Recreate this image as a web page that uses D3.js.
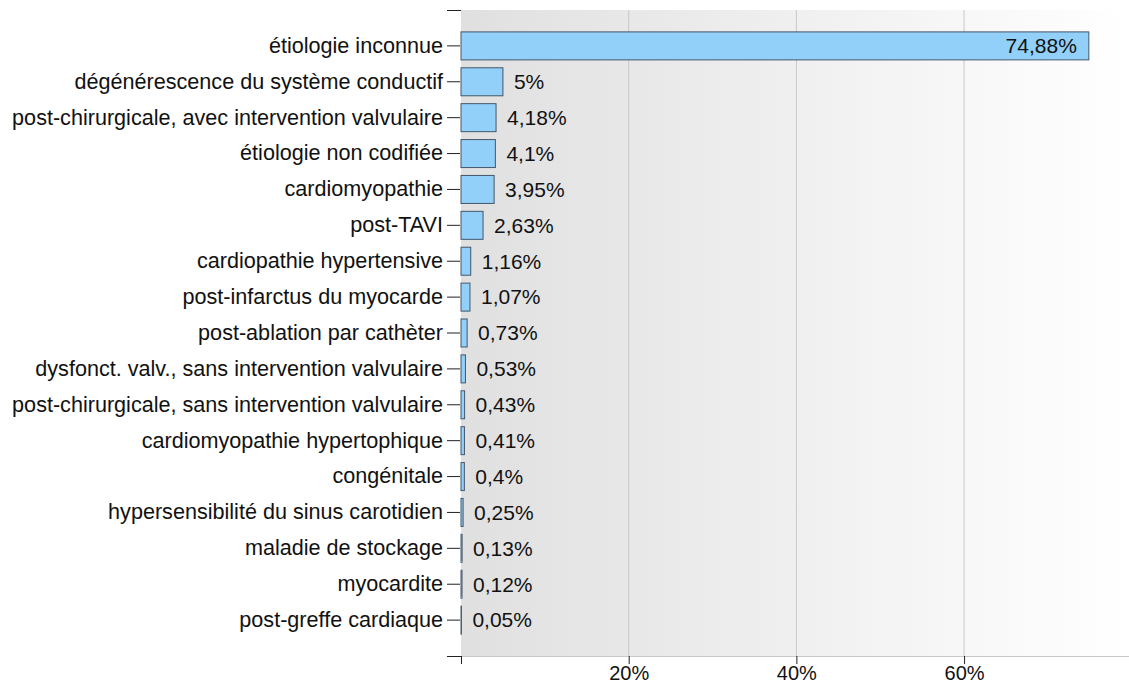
<!DOCTYPE html>
<html>
<head>
<meta charset="utf-8">
<script src="https://cdn.jsdelivr.net/npm/d3@7"></script>
<style>
body { margin: 0; background: #fff; }
text { font-family: "Liberation Sans", Arial, sans-serif; }
</style>
</head>
<body>
<div id="chart"></div>
<script>
var width = 1129;
var height = 684;

var categories = [
    "étiologie inconnue",
    "dégénérescence du système conductif",
    "post-chirurgicale, avec intervention valvulaire",
    "étiologie non codifiée",
    "cardiomyopathie",
    "post-TAVI",
    "cardiopathie hypertensive",
    "post-infarctus du myocarde",
    "post-ablation par cathèter",
    "dysfonct. valv., sans intervention valvulaire",
    "post-chirurgicale, sans intervention valvulaire",
    "cardiomyopathie hypertophique",
    "congénitale",
    "hypersensibilité du sinus carotidien",
    "maladie de stockage",
    "myocardite",
    "post-greffe cardiaque"
];
var values = [74.88, 5, 4.18, 4.1, 3.95, 2.63, 1.16, 1.07, 0.73, 0.53, 0.43, 0.41, 0.4, 0.25, 0.13, 0.12, 0.05];
var xTicks = [20, 40, 60];

var plotLeft = 461, plotRight = 1129, plotTop = 10, plotBottom = 656;

var svg = d3.select("#chart").append("svg")
    .attr("width", width)
    .attr("height", height);

var x = d3.scaleLinear()
    .domain([0, 79.67])
    .range([plotLeft, plotRight]);

var y = d3.scaleBand()
    .domain(categories)
    .range([plotTop, plotBottom])
    .paddingInner(0.22)
    .paddingOuter(0.61);

// background gradient
var grad = svg.append("defs")
    .append("linearGradient")
    .attr("id", "bg")
    .attr("x1", "0%").attr("y1", "0%")
    .attr("x2", "100%").attr("y2", "0%");
grad.append("stop").attr("offset", "0%").attr("stop-color", "#e0e0e0");
grad.append("stop").attr("offset", "100%").attr("stop-color", "#ffffff");

svg.append("rect")
    .attr("x", plotLeft)
    .attr("y", plotTop)
    .attr("width", plotRight - plotLeft)
    .attr("height", plotBottom - plotTop)
    .attr("fill", "url(#bg)");

// grid
svg.selectAll(".grid")
    .data(xTicks)
    .enter().append("line")
    .attr("x1", x).attr("x2", x)
    .attr("y1", plotTop).attr("y2", plotBottom)
    .attr("stroke", "#c8c8c8")
    .attr("stroke-width", 1);

svg.append("line")
    .attr("x1", plotLeft).attr("x2", plotRight)
    .attr("y1", plotBottom + 0.5).attr("y2", plotBottom + 0.5)
    .attr("stroke", "#c8c8c8");

// bars
svg.selectAll(".bar")
    .data(values)
    .enter().append("rect")
    .attr("x", x(0))
    .attr("y", function (d, i) { return y(categories[i]); })
    .attr("width", function (d) { return x(d) - x(0); })
    .attr("height", y.bandwidth())
    .attr("fill", "#92d0fa")
    .attr("stroke", "#44566a")
    .attr("stroke-width", 1);

function fmt(v) {
    return String(v).replace(".", ",") + "%";
}

svg.selectAll(".val")
    .data(values)
    .enter().append("text")
    .attr("x", function (d, i) { return i === 0 ? x(d) - 12 : x(d) + 11; })
    .attr("y", function (d, i) { return y(categories[i]) + y.bandwidth() / 2; })
    .attr("dy", "0.35em")
    .attr("text-anchor", function (d, i) { return i === 0 ? "end" : "start"; })
    .style("font-size", "21px")
    .attr("fill", "#111")
    .text(fmt);

// y axis
var yAxis = d3.axisLeft(y).tickSize(13).tickPadding(4);
var yg = svg.append("g")
    .attr("transform", "translate(" + (plotLeft - 1) + ",0)")
    .call(yAxis);
yg.select(".domain").remove();
yg.selectAll("line").attr("stroke", "#222");
yg.selectAll("text").style("font-size", "21.6px").attr("fill", "#111");

// outer ticks of y axis
svg.selectAll(".ytickend")
    .data([plotTop, plotBottom])
    .enter().append("line")
    .attr("x1", plotLeft - 14).attr("x2", plotLeft)
    .attr("y1", function (d) { return d + 0.5; })
    .attr("y2", function (d) { return d + 0.5; })
    .attr("stroke", "#222");

// x axis
var xAxis = d3.axisBottom(x)
    .tickValues([0].concat(xTicks))
    .tickSize(8)
    .tickPadding(2)
    .tickFormat(function (d) { return d === 0 ? "" : d + "%"; });
var xg = svg.append("g")
    .attr("transform", "translate(0," + plotBottom + ")")
    .call(xAxis);
xg.select(".domain").remove();
xg.selectAll("line").attr("stroke", "#222");
xg.selectAll("text").style("font-size", "20px").attr("fill", "#111");
</script>
</body>
</html>
